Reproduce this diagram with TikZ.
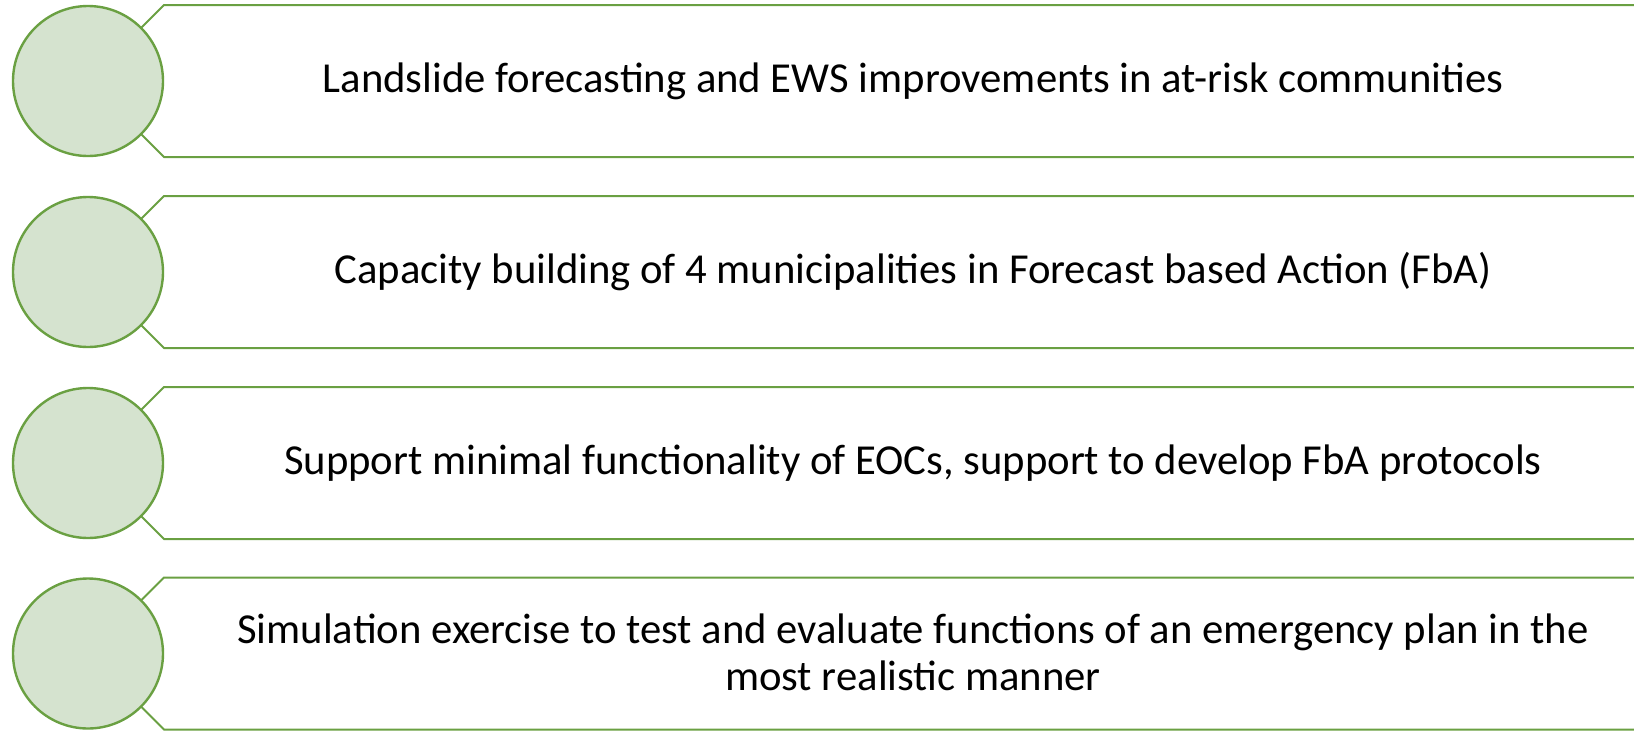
\documentclass[tikz,border=0pt]{standalone}
\usepackage{fontspec}
\setmainfont{Carlito}
\definecolor{gstroke}{HTML}{6AA042}
\definecolor{gfill}{HTML}{D5E3CF}
\tikzset{
  disc/.style={circle, draw=gstroke, fill=gfill, line width=2.4pt, minimum size=150pt, inner sep=0pt},
  tabline/.style={draw=gstroke, line width=2pt, line join=miter},
  label/.style={font=\fontsize{42.7}{47}\selectfont, align=center, anchor=base, inner sep=0pt}
}
\begin{document}
\begin{tikzpicture}[x=1pt,y=-1pt]
\useasboundingbox (0,0) rectangle (1634,731);
\clip (0,0) rectangle (1634,731);
\foreach \i/\cy in {1/81,2/272,3/463,4/653.5}{
  \draw[tabline] (1650,\cy-76) -- (164,\cy-76) -- (88,\cy) -- (164,\cy+76) -- (1650,\cy+76);
  \node[disc] (c\i) at (88,\cy) {};
}
\node[label] (t1) at (913,92) {Landslide forecasting and EWS improvements in at-risk communities};
\node[label] (t2) at (913,283.5) {Capacity building of 4 municipalities in Forecast based Action (FbA)};
\node[label] (t3) at (913,474.5) {Support minimal functionality of EOCs, support to develop FbA protocols};
\node[label, anchor=center] (t4) at (913,652) {Simulation exercise to test and evaluate functions of an emergency plan in the\\most realistic manner};
\end{tikzpicture}
\end{document}
